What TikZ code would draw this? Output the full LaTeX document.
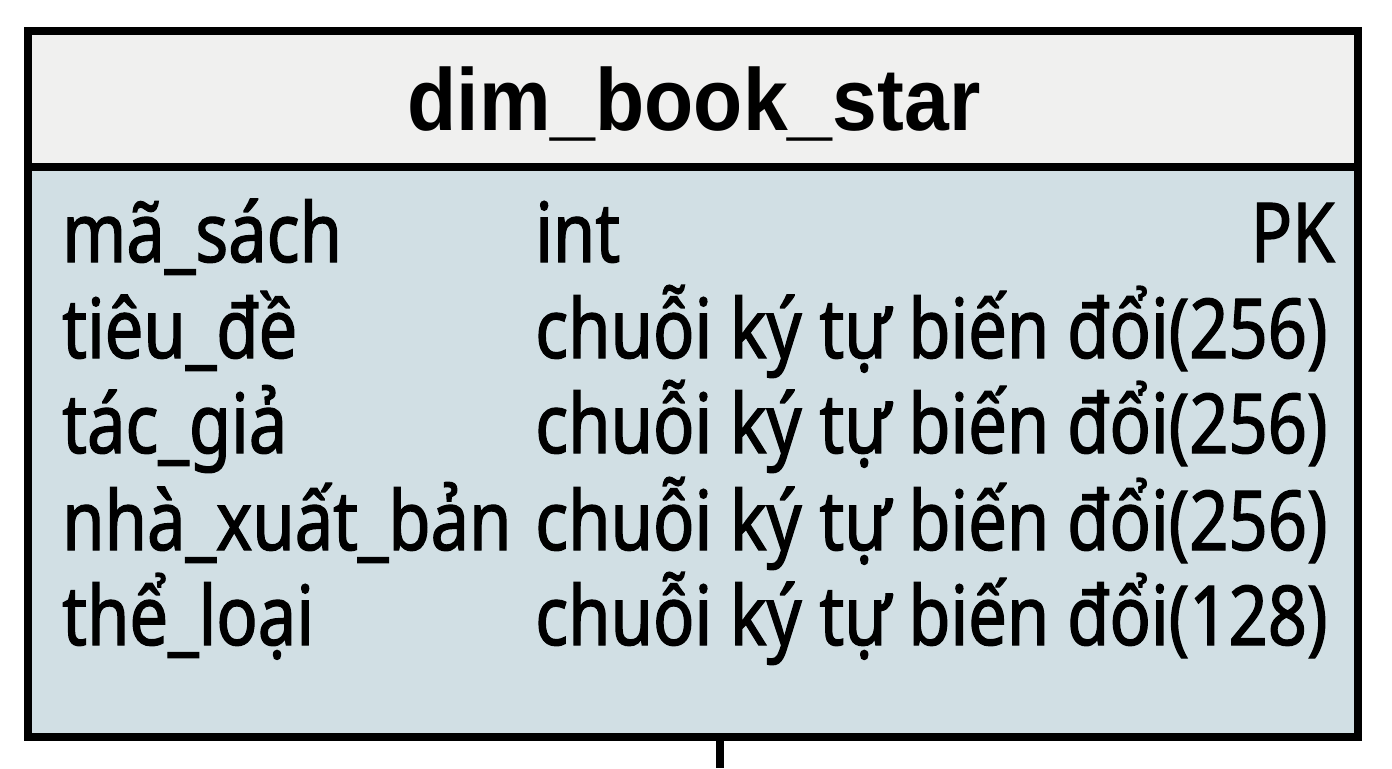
\documentclass[tikz,border=0pt]{standalone}
\usepackage{fontspec}
\usepackage{xcolor}
\usepackage{tikz}
\usetikzlibrary{shapes,arrows}

\setmainfont{Noto Sans}[FakeStretch=0.83, FakeBold=1.5]
\newfontfamily\titlefont{Liberation Sans}[FakeStretch=0.915]

\definecolor{headfill}{RGB}{240,240,239}
\definecolor{bodyfill}{RGB}{209,223,228}

\begin{document}
\begin{tikzpicture}[x=0.75pt, y=-0.75pt]
\tikzstyle{border}=[line width=6pt, draw=black]
\tikzstyle{panel}=[border, rectangle, inner sep=0pt, outer sep=0pt, anchor=north west, minimum width=997.5pt]
\tikzstyle{tabletitle}=[font=\titlefont\bfseries\fontsize{66}{70}\selectfont, anchor=base, inner sep=0pt]
\tikzstyle{field}=[font=\fontsize{62}{70}\selectfont, anchor=base west, inner sep=0pt]
\tikzstyle{keyflag}=[field, anchor=base east]

\useasboundingbox (0,0) rectangle (1392,768);

% Table 'panels'
\node[panel, fill=headfill, minimum height=102pt] (header) at (28,31) {};
\node[panel, fill=bodyfill, minimum height=427.5pt] (body) at (28,167) {};

\node[tabletitle] (title) at (694,130) {dim\_book\_star};

\node[field] (name-masach) at (62,262) {mã\_sách};
\node[field] (name-tieude) at (62,358) {tiêu\_đề};
\node[field] (name-tacgia) at (62,453) {tác\_giả};
\node[field] (name-nxb) at (62,550) {nhà\_xuất\_bản};
\node[field] (name-theloai) at (62,645) {thể\_loại};

\node[field] (type-masach) at (535,262) {int};
\node[field] (type-tieude) at (535,358) {chuỗi ký tự biến đổi(256)};
\node[field] (type-tacgia) at (535,453) {chuỗi ký tự biến đổi(256)};
\node[field] (type-nxb) at (535,550) {chuỗi ký tự biến đổi(256)};
\node[field] (type-theloai) at (535,645) {chuỗi ký tự biến đổi(128)};

\node[keyflag] (key-masach) at (1335,262) {PK};

% Link leaving the table
\coordinate (link-end) at (720,768);
\draw[border] (body.south -| link-end) -- (link-end);
\end{tikzpicture}
\end{document}
